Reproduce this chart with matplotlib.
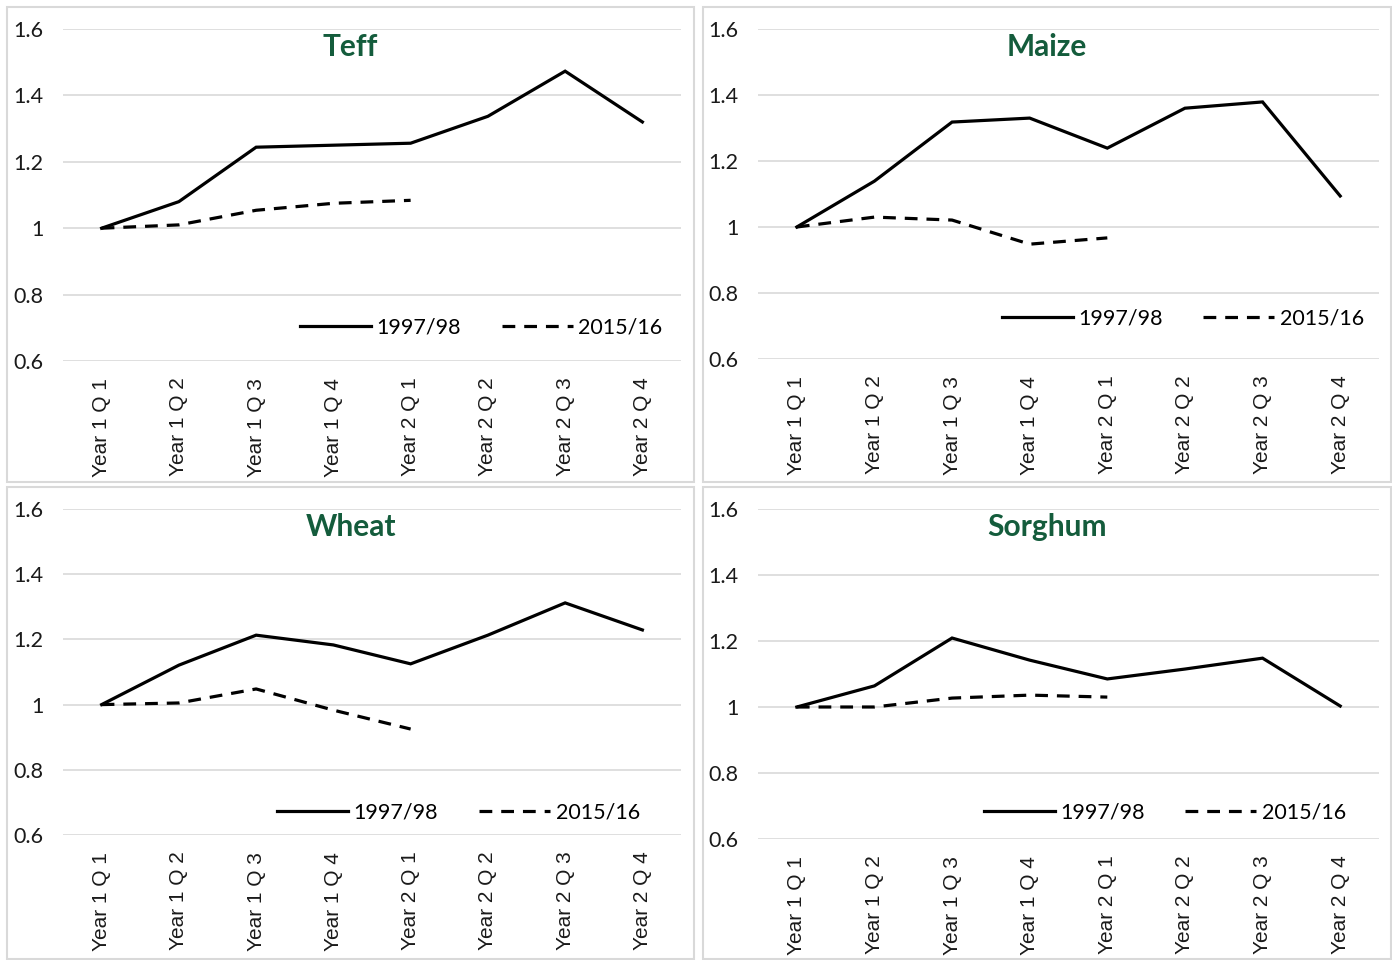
import matplotlib.pyplot as plt
from matplotlib.patches import Rectangle

# quarters on the x axis
quarters = ["Year 1 Q 1", "Year 1 Q 2", "Year 1 Q 3", "Year 1 Q 4",
            "Year 2 Q 1", "Year 2 Q 2", "Year 2 Q 3", "Year 2 Q 4"]

teff_9798 = [1.0, 1.08, 1.244, 1.25, 1.256, 1.337, 1.473, 1.32]
teff_1516 = [1.0, 1.01, 1.054, 1.075, 1.084]
maize_9798 = [1.0, 1.139, 1.318, 1.33, 1.239, 1.36, 1.379, 1.094]
maize_1516 = [1.0, 1.03, 1.021, 0.948, 0.967]
wheat_9798 = [1.0, 1.121, 1.213, 1.183, 1.125, 1.213, 1.312, 1.229]
wheat_1516 = [1.0, 1.005, 1.048, 0.983, 0.925]
sorghum_9798 = [1.0, 1.064, 1.209, 1.142, 1.085, 1.115, 1.148, 1.003]
sorghum_1516 = [1.0, 1.0, 1.027, 1.036, 1.03]

yticks = [0.6, 0.8, 1.0, 1.2, 1.4, 1.6]
ylabels = ["0.6", "0.8", "1", "1.2", "1.4", "1.6"]

W, H = 1392, 960
fig = plt.figure(figsize=(W / 100, H / 100), dpi=100)

# (title, solid, dashed, axes box px [l, r, top, bottom], panel px [x0, x1, y0, y1], legend anchor, title y px)
panels = [
    ("Teff", teff_9798, teff_1516, [63, 681, 29, 361], [7, 694, 7, 482], (0.677, 0.10), 47),
    ("Maize", maize_9798, maize_1516, [758, 1379, 29, 359], [703, 1391, 7, 482], (0.684, 0.124), 47),
    ("Wheat", wheat_9798, wheat_1516, [63, 681, 509, 835], [7, 694, 487, 959], (0.64, 0.068), 527),
    ("Sorghum", sorghum_9798, sorghum_1516, [758, 1379, 509, 839], [703, 1391, 487, 959], (0.655, 0.079), 527),
]

grid_col = "#d9d9d9"
title_col = "#145c3c"

for title, solid, dashed, box, pan, leg_xy, ty in panels:
    # panel border
    fig.patches.append(Rectangle((pan[0] / W, 1 - pan[3] / H), (pan[1] - pan[0]) / W,
                                 (pan[3] - pan[2]) / H, transform=fig.transFigure,
                                 fill=False, edgecolor=grid_col, lw=1.5))
    ax = fig.add_axes([box[0] / W, 1 - box[3] / H, (box[1] - box[0]) / W, (box[3] - box[2]) / H])
    ax.plot(range(len(solid)), solid, color="black", lw=2.3, label="1997/98",
            solid_joinstyle="miter")
    ax.plot(range(len(dashed)), dashed, color="black", lw=2.3, dashes=(4, 2.8),
            label="2015/16")
    ax.set_xlim(-0.5, 7.5)
    ax.set_ylim(0.6, 1.6)
    ax.set_yticks(yticks)
    ax.set_yticklabels(ylabels, fontsize=15.5, family="Lato")
    ax.set_xticks(range(len(quarters)))
    ax.set_xticklabels(quarters, rotation=90, fontsize=15, family="Liberation Sans",
                       va="top", ha="center")
    ax.tick_params(axis="y", length=0, pad=14, colors="#1a1a1a")
    ax.tick_params(axis="x", length=0, pad=12, colors="#1a1a1a")
    ax.grid(axis="y", color=grid_col, lw=1.2)
    ax.set_axisbelow(True)
    for s in ax.spines.values():
        s.set_visible(False)
    ax.legend(loc="center", bbox_to_anchor=leg_xy, ncol=2, frameon=False,
              prop={"family": "Lato", "size": 15.5}, handlelength=3.3,
              handletextpad=0.25, columnspacing=1.9)
    fig.text((pan[0] + pan[1]) / 2 / W, 1 - ty / H, title, ha="center", va="center",
             fontsize=21.5, fontweight="bold", family="Lato", color=title_col)

fig.savefig("out.png", dpi=100)
